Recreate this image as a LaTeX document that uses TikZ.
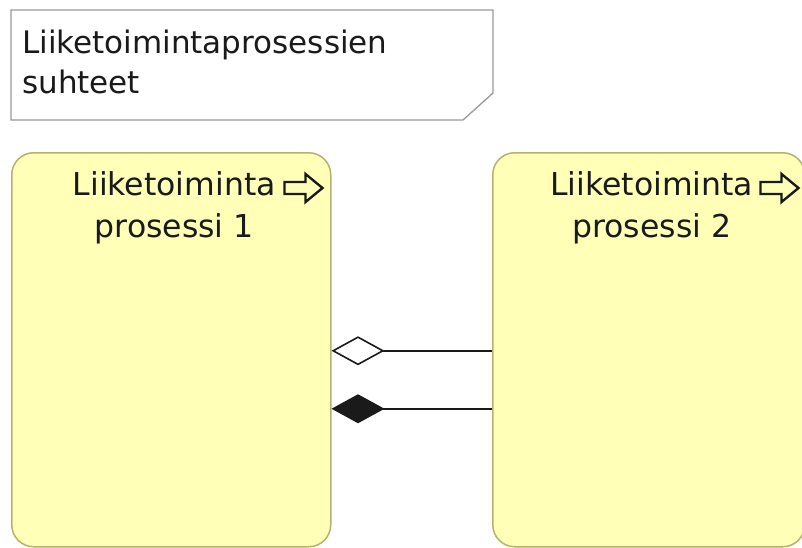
\documentclass[tikz,border=0pt]{standalone}
\usepackage{fontspec}
\setmainfont{DejaVu Sans}
\usetikzlibrary{arrows.meta}
\definecolor{procfill}{HTML}{FFFFB8}
\definecolor{procdraw}{HTML}{B4B26E}
\definecolor{notedraw}{HTML}{9A9A9A}
\definecolor{ink}{HTML}{1A1A1A}
\tikzset{
  proc/.style={draw=procdraw, fill=procfill, line width=1.5pt, rounded corners=22pt, inner sep=0pt, anchor=north west},
  proctext/.style={font=\fontsize{31.5}{42}\selectfont, align=center, text=ink, inner sep=0pt, anchor=north},
  notetext/.style={font=\fontsize{31}{40}\selectfont, align=left, text=ink, inner sep=0pt, anchor=north west},
  conn/.style={line width=2pt, draw=ink},
  agg/.style={conn, -{Diamond[open, length=53pt, width=29pt, line width=1.6pt]}},
  comp/.style={conn, -{Diamond[length=53pt, width=29pt, line width=1.6pt]}},
  procicon/.pic={\draw[line width=2.4pt, ink, line join=miter] (0,-6) -- (21,-6) -- (21,-14) -- (38,0) -- (21,14) -- (21,6) -- (0,6) -- cycle;}
}
\begin{document}
\begin{tikzpicture}[x=1pt,y=-1pt]
\useasboundingbox (0,0) rectangle (802,547);
\fill[white] (0,0) rectangle (802,547);
% note
\draw[notedraw, line width=1.3pt, fill=white] (11,10) -- (493,10) -- (493,93) -- (463,120) -- (11,120) -- cycle;
\node[notetext] (title) at (22,30) {Liiketoimintaprosessien\\suhteet};
% processes
\node[proc, minimum width=319pt, minimum height=394pt] (p1) at (11,152) {};
\node[proc, minimum width=312pt, minimum height=394pt] (p2) at (492,152) {};
\node[proctext] (t1) at ([xshift=3pt,yshift=-19pt]p1.north) {Liiketoiminta\\prosessi 1};
\node[proctext] (t2) at ([xshift=3pt,yshift=-19pt]p2.north) {Liiketoiminta\\prosessi 2};
\pic at ([xshift=-47pt,yshift=-36pt]p1.north east) {procicon};
\pic at ([xshift=-45pt,yshift=-36pt]p2.north east) {procicon};
% relations
\draw[agg] ([yshift=-1pt]p2.west) -- ([yshift=-1pt]p1.east);
\draw[comp] ([yshift=-59pt]p2.west) -- ([yshift=-59pt]p1.east);
\end{tikzpicture}
\end{document}
